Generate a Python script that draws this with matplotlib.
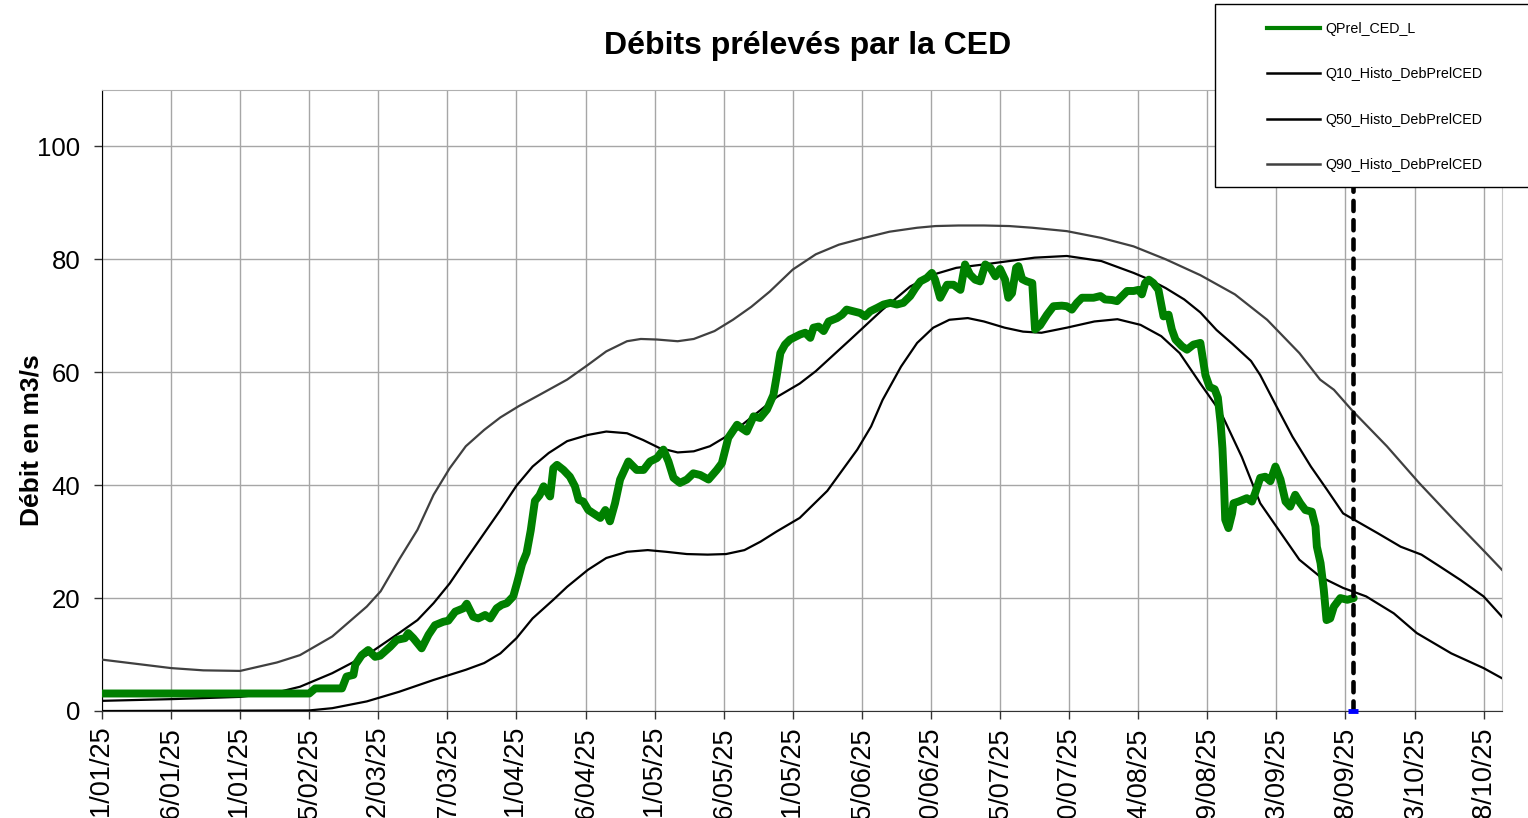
import numpy as np
import pandas as pd
import matplotlib
matplotlib.use("Agg")
import matplotlib.pyplot as plt
import matplotlib.dates as mdates
from matplotlib.lines import Line2D
from matplotlib.patches import Rectangle

plt.rcParams['font.family'] = ['Liberation Sans', 'DejaVu Sans']

start = np.datetime64('2025-01-01T00:00')

# days counted from 01/01/25, values in m3/s
q90_days = [0, 8, 15, 22, 30, 38, 43, 50, 57.5, 60.5, 64.5, 68.5, 72, 75.5, 79,
            83, 86.5, 90.5, 95, 101, 105.5, 109.5, 114, 117, 120.5, 125, 128.5,
            133, 137, 141, 145, 150, 155, 160, 165.5, 171, 177, 181, 186, 191.5,
            197, 202, 209.5, 217, 224, 231, 238.5, 246, 253, 260, 264.5, 267.5,
            271.5, 279, 286, 293.5, 300.5, 304]
q90_vals = [9.1, 8.3, 7.6, 7.2, 7.1, 8.6, 9.9, 13.2, 18.5, 21.2, 26.8, 32.1, 38.3,
            43.0, 46.9, 49.8, 52.0, 54.0, 56.0, 58.7, 61.3, 63.7, 65.5, 65.9, 65.8,
            65.5, 65.9, 67.3, 69.3, 71.6, 74.3, 78.2, 80.9, 82.6, 83.8, 84.9, 85.6,
            85.9, 86.0, 86.0, 85.9, 85.6, 85.0, 83.8, 82.3, 80.0, 77.2, 73.8, 69.3,
            63.4, 58.7, 56.9, 53.2, 46.9, 40.4, 33.9, 28.0, 25.0]

q50_days = [0, 15, 30, 38, 43, 50, 57.5, 64.5, 68.5, 72, 75.5, 79, 83, 86.5, 90,
            93.5, 97, 101, 105.5, 109.5, 114, 117.5, 121, 125, 128.5, 132, 135.5,
            139, 141, 146.5, 151.5, 155, 162.5, 169.5, 175.5, 180.5, 185.5, 191.5,
            197, 202.5, 209.5, 217, 224, 227.5, 231, 235, 238.5, 242, 245.5, 249.5,
            251.5, 255, 258.5, 262.5, 266, 269.5, 272.5, 277, 282, 286.5, 290.5,
            295, 300, 304]
q50_vals = [1.8, 2.1, 2.5, 3.3, 4.3, 6.7, 9.9, 13.8, 16.1, 19.1, 22.6, 26.8, 31.5,
            35.6, 39.9, 43.3, 45.7, 47.8, 48.9, 49.5, 49.2, 48.0, 46.6, 45.8, 46.0,
            46.9, 48.6, 50.7, 52.0, 55.6, 58.0, 60.2, 65.8, 71.1, 75.2, 77.3, 78.5,
            79.1, 79.7, 80.3, 80.6, 79.7, 77.6, 76.4, 74.9, 72.9, 70.6, 67.5, 65.0,
            62.0, 59.5, 54.0, 48.6, 43.3, 39.2, 35.0, 33.6, 31.5, 29.1, 27.7, 25.6,
            23.2, 20.3, 16.7]

q10_days = [0, 45, 50, 57.5, 64.5, 72, 79, 83, 86.5, 90, 93.5, 98, 101, 105.5,
            109.5, 114, 118.5, 122.5, 127, 131.5, 135.5, 139.5, 143, 146.5, 151.5,
            157.5, 164, 167, 169.5, 173.5, 177, 180.5, 184, 188, 191.5, 196, 200,
            204, 209.5, 215.5, 220.5, 225.5, 230, 234, 238.5, 243, 247.5, 251.5,
            256, 260, 264.5, 269.5, 274.5, 280.5, 285.5, 293, 300, 304]
q10_vals = [0.0, 0.1, 0.5, 1.7, 3.4, 5.5, 7.3, 8.5, 10.2, 12.9, 16.4, 19.7, 22.0,
            25.0, 27.1, 28.2, 28.5, 28.2, 27.8, 27.7, 27.8, 28.5, 30.0, 31.8, 34.2,
            39.0, 46.3, 50.4, 55.1, 61.0, 65.2, 67.9, 69.3, 69.6, 69.0, 67.9, 67.2,
            67.0, 67.9, 69.0, 69.4, 68.4, 66.4, 63.4, 58.0, 52.8, 45.0, 36.8, 31.5,
            26.8, 23.8, 21.8, 20.3, 17.3, 13.8, 10.2, 7.6, 5.8]

qprel_days = [0, 45, 46.3, 52.1, 53.1, 54.6, 55.0, 56.4, 57.8, 59.3, 60.4, 62.6,
              64.0, 65.8, 66.5, 67.6, 69.4, 70.9, 72.3, 74.1, 75.2, 76.7, 78.5,
              79.2, 80.6, 81.7, 83.2, 84.3, 85.7, 86.8, 87.9, 89.3, 90.1, 91.2,
              92.2, 93.1, 94.0, 95.0, 95.9, 96.6, 97.3, 98.0, 98.8, 100.2, 101.6,
              102.7, 103.5, 104.5, 105.6, 107.1, 108.2, 109.3, 110.3, 111.4, 112.5,
              114.3, 116.1, 117.6, 119.0, 120.5, 121.9, 123.0, 124.1, 125.5, 127.0,
              128.4, 129.9, 131.7, 133.5, 134.6, 136.0, 137.9, 138.9, 140.0, 141.5,
              142.9, 144.4, 145.8, 146.5, 147.3, 148.3, 149.4, 151.6, 152.7, 153.8,
              154.5, 155.6, 156.7, 157.8, 159.6, 160.7, 161.7, 163.2, 164.6, 165.7,
              166.8, 168.3, 169.7, 171.2, 172.6, 174.0, 175.5, 176.6, 177.7, 179.1,
              180.2, 180.9, 182.0, 183.5, 184.9, 186.4, 187.4, 188.5, 189.6, 190.7,
              191.8, 192.9, 194.0, 195.0, 196.1, 196.8, 197.6, 198.5, 199.0, 199.8,
              200.8, 202.0, 202.6, 203.7, 205.2, 206.6, 208.4, 209.5, 210.6, 211.7,
              212.8, 215.3, 216.8, 217.8, 219.3, 220.4, 221.5, 222.6, 224.0, 225.1,
              225.8, 226.5, 227.3, 228.3, 229.4, 230.5, 231.6, 232.3, 233.1, 234.5,
              235.6, 237.0, 238.5, 239.6, 240.5, 241.6, 242.3, 242.9, 243.3, 243.6,
              243.9, 244.6, 245.4, 245.7, 246.8, 248.6, 249.7, 250.4, 251.5, 252.6,
              253.7, 254.8, 255.9, 257.0, 258.0, 259.1, 260.2, 261.3, 262.7, 263.5,
              263.8, 264.6, 265.3, 265.9, 266.7, 267.5, 268.9, 270.4, 271.8]
qprel_vals = [3.1, 3.1, 4.0, 4.0, 6.1, 6.4, 8.2, 9.9, 10.8, 9.6, 9.8, 11.4,
              12.6, 12.9, 13.8, 12.9, 11.1, 13.5, 15.2, 15.8, 16.0, 17.6, 18.2,
              19.0, 16.7, 16.4, 17.0, 16.4, 18.2, 18.8, 19.1, 20.3, 22.6, 26.0,
              28.0, 32.0, 37.2, 38.2, 39.8, 38.9, 38.0, 43.0, 43.6, 42.7, 41.5,
              39.8, 37.4, 37.1, 35.6, 34.8, 34.2, 35.6, 33.6, 36.8, 41.0,
              44.2, 42.7, 42.7, 44.2, 44.8, 46.3, 44.2, 41.3, 40.4, 41.0,
              42.1, 41.8, 41.0, 42.7, 43.9, 48.4, 50.7, 50.1, 49.5, 52.2,
              51.9, 53.4, 56.0, 59.3, 63.4, 64.9, 65.8, 66.7, 67.0, 66.1,
              67.9, 68.1, 67.3, 69.0, 69.6, 70.2, 71.1, 70.8, 70.5, 69.9,
              70.8, 71.4, 72.0, 72.3, 72.0, 72.3, 73.5, 74.9, 76.1, 76.7,
              77.6, 76.4, 73.2, 75.5, 75.5, 74.6, 79.1, 77.3, 76.4, 76.1,
              79.1, 78.5, 77.0, 78.3, 76.4, 73.2, 74.0, 78.5, 78.8, 76.5,
              76.1, 75.8, 67.6, 68.3, 70.2, 71.7, 71.8, 71.7, 71.1, 72.3,
              73.2, 73.2, 73.5, 72.9, 72.8, 72.6, 73.5, 74.4, 74.4, 74.6,
              73.8, 75.8, 76.4, 75.8, 74.6, 69.9, 70.2, 67.6, 65.8, 64.6,
              64.0, 64.9, 65.2, 59.5, 57.4, 57.0, 55.5, 51.0, 46.5, 41.0,
              33.9, 32.4, 35.0, 36.8, 37.1, 37.7, 37.1, 38.6, 41.3, 41.5,
              40.7, 43.3, 41.0, 37.1, 36.2, 38.3, 36.8, 35.6, 35.3, 32.7,
              29.1, 26.2, 21.5, 16.1, 16.4, 18.5, 20.0, 19.7, 20.0]

today = '2025-09-29T18:00'
tick_dates = pd.date_range('2025-01-01', '2025-10-31', freq='15D')


def to_dates(days):
    return start + (np.array(days) * 24 * 60).astype('timedelta64[m]')


fig = plt.figure(figsize=(15.28, 8.18), dpi=100)
ax = fig.add_axes([102 / 1528, 1 - 711 / 818, 1400 / 1528, 621 / 818])

ax.plot(to_dates(q90_days), q90_vals, color='#404040', lw=1.6, zorder=3)
ax.plot(to_dates(q10_days), q10_vals, color='black', lw=1.6, zorder=3)
ax.plot(to_dates(q50_days), q50_vals, color='black', lw=1.6, zorder=3)
ax.plot(to_dates(qprel_days), qprel_vals, color='#008000', lw=5.7,
        solid_joinstyle='round', solid_capstyle='round', zorder=4)

ax.axvline(np.datetime64(today), color='black', lw=3.3, dashes=(2.2, 2.0),
           dash_capstyle='round', zorder=5)
ax.plot([np.datetime64(today)], [0], marker='_', ms=7, mew=3.5, color='blue',
        clip_on=False, zorder=6)

ax.set_xlim(np.datetime64('2025-01-01'), np.datetime64('2025-11-01'))
ax.set_ylim(0, 110)
ax.set_yticks([0, 20, 40, 60, 80, 100])
ax.set_xticks(tick_dates)
ax.xaxis.set_major_formatter(mdates.DateFormatter('%d/%m/%y'))
ax.tick_params(axis='x', labelrotation=90, labelsize=19.5, length=6, width=1,
               color='#333333', pad=5)
ax.tick_params(axis='y', labelsize=18.5, length=6, width=1, color='#333333', pad=9.5)

ax.grid(True, color='#a6a6a6', lw=1.0)
ax.set_axisbelow(True)
ax.spines['left'].set_color('black')
ax.spines['bottom'].set_color('#333333')
ax.spines['top'].set_color('#b0b0b0')
ax.spines['right'].set_color('#c8c8c8')

ax.set_ylabel('Débit en m3/s', fontsize=19, fontweight='bold')
ax.yaxis.label.set_va('center')
ax.yaxis.set_label_coords(-0.0502, 0.436)

fig.text(808 / 1528, 1 - 46 / 818, 'Débits prélevés par la CED', ha='center',
         va='center', fontsize=23, fontweight='bold')

# legend box, cut off at the right edge like the original
fig.add_artist(Rectangle((1215 / 1528, 1 - 187 / 818), 400 / 1528, 183 / 818,
                         transform=fig.transFigure, facecolor='white',
                         edgecolor='black', lw=1, zorder=3))
handles = [Line2D([], [], color='#008000', lw=3),
           Line2D([], [], color='black', lw=1.8),
           Line2D([], [], color='black', lw=1.8),
           Line2D([], [], color='#404040', lw=1.8)]
labels = ['QPrel_CED_L', 'Q10_Histo_DebPrelCED', 'Q50_Histo_DebPrelCED',
          'Q90_Histo_DebPrelCED']
fig.legend(handles, labels, loc='upper left',
           bbox_to_anchor=(1267 / 1528, 1 - 22 / 818), frameon=False, fontsize=10.3,
           handlelength=3.7, handletextpad=0.35, labelspacing=2.2,
           borderpad=0, borderaxespad=0)

fig.savefig('out.png', dpi=100)
